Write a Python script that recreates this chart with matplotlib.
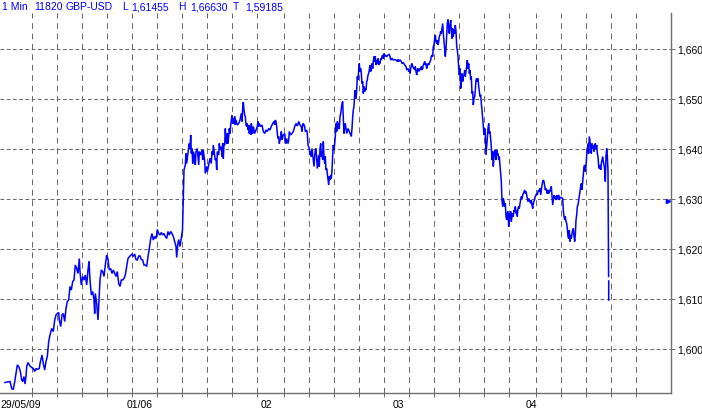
import numpy as np
import matplotlib
matplotlib.use("Agg")
import matplotlib.pyplot as plt
from matplotlib.ticker import FixedLocator, FuncFormatter

# ------------------------------------------
# Data (time slot along the axis, price)
# ------------------------------------------

seg1_t = [
    5.0, 10.0, 11.7, 13.3, 15.0, 16.0, 17.3, 18.7, 20.0, 20.7,
    21.7, 22.7, 24.0, 25.0, 26.0, 26.7, 28.0, 30.0, 31.7, 33.3,
    34.7, 36.0, 37.3, 39.3, 40.0, 42.0, 43.3, 44.7, 46.0, 47.3,
    48.7, 50.0, 51.7, 53.3, 54.7, 56.0, 57.3, 58.7, 59.3, 60.7,
    62.0, 63.3, 64.7, 66.0, 67.3, 68.7, 70.0, 71.3, 72.7, 74.0,
    75.3, 76.7, 78.0, 79.3, 80.0, 81.3, 82.7, 84.0, 85.3, 86.7,
    88.0, 89.0, 90.0, 91.3, 92.7, 94.0, 94.7, 95.3, 96.7, 98.0,
    98.7, 100.0, 101.3, 102.7, 104.0, 105.3, 106.7, 108.0, 109.3, 110.7,
    112.0, 113.3, 114.7, 116.0, 117.3, 118.7, 120.0, 121.3, 122.7, 124.0,
    125.3, 126.7, 128.0, 130.0, 132.0, 133.3, 134.7, 136.0, 137.3, 138.7,
    140.0, 141.3, 142.7, 144.0, 145.3, 146.7, 148.0, 149.3, 150.7, 152.0,
    153.3, 154.7, 156.0, 157.3, 158.7, 160.0, 161.3, 162.7, 164.0, 165.3,
    166.7, 168.0, 169.3, 170.7, 172.0, 173.3, 174.7, 176.0, 176.7, 177.7,
    178.7, 180.0, 182.5, 183.3, 184.0,
]
seg1_p = [
    1.5933, 1.5935, 1.5921, 1.5919, 1.5938, 1.5951, 1.5968, 1.5965, 1.5958, 1.5951,
    1.5938, 1.5935, 1.5945, 1.5930, 1.5945, 1.5965, 1.5973, 1.5966, 1.5963, 1.5961,
    1.5955, 1.5961, 1.5959, 1.5961, 1.5971, 1.5988, 1.5971, 1.5958, 1.5975, 1.5985,
    1.6015, 1.6028, 1.6041, 1.6035, 1.6058, 1.6068, 1.6071, 1.6073, 1.6058, 1.6045,
    1.6068, 1.6071, 1.6055, 1.6081, 1.6095, 1.6098, 1.6125, 1.6118, 1.6135, 1.6138,
    1.6168, 1.6161, 1.6151, 1.6181, 1.6155, 1.6128, 1.6145, 1.6138, 1.6148, 1.6128,
    1.6158, 1.6175, 1.6138, 1.6108, 1.6115, 1.6098, 1.6071, 1.6111, 1.6091, 1.6058,
    1.6085, 1.6138, 1.6158, 1.6155, 1.6145, 1.6168, 1.6188, 1.6179, 1.6158, 1.6161,
    1.6151, 1.6158, 1.6151, 1.6145, 1.6155, 1.6131, 1.6125, 1.6138, 1.6138, 1.6141,
    1.6148, 1.6165, 1.6181, 1.6186, 1.6190, 1.6185, 1.6190, 1.6179, 1.6178, 1.6186,
    1.6186, 1.6179, 1.6178, 1.6168, 1.6168, 1.6165, 1.6185, 1.6201, 1.6221, 1.6231,
    1.6218, 1.6225, 1.6221, 1.6239, 1.6231, 1.6228, 1.6233, 1.6228, 1.6231, 1.6225,
    1.6221, 1.6235, 1.6228, 1.6235, 1.6231, 1.6225, 1.6215, 1.6205, 1.6183, 1.6208,
    1.6219, 1.6205, 1.6238, 1.6298, 1.6358,
]

seg2_t = [
    185.3, 186.0, 186.7, 187.3, 188.3, 189.3, 190.0, 190.7, 191.3, 192.0,
    192.7, 193.3, 194.7, 195.3, 196.0, 197.3, 198.7, 199.3, 200.7, 202.0,
    202.7, 203.3, 204.7, 205.3, 206.7, 207.3, 208.0, 209.3, 210.0, 211.3,
    212.0, 212.7, 213.3, 214.0, 215.3, 216.0, 216.7, 217.3, 218.7, 219.3,
    220.0, 221.3, 222.0, 222.7, 223.3, 224.0, 224.7, 225.3, 226.0, 226.7,
    227.3, 228.0, 228.7, 229.3, 230.0, 230.7, 232.0, 232.7, 233.3, 234.0,
    234.7, 235.3, 236.0, 237.3, 238.7, 240.0, 241.3, 242.0, 242.7, 243.3,
    244.0, 244.7, 245.3, 246.0, 246.7, 247.3, 248.0, 248.7, 249.3, 250.0,
    250.7, 251.3, 252.0, 252.7, 253.3, 254.7, 256.0, 257.3, 258.0, 258.7,
    259.3, 260.7, 262.0, 263.3, 264.7, 266.0, 267.3, 268.7, 270.0, 271.3,
    272.7, 274.0, 274.7, 275.3, 276.0, 276.7, 277.3, 278.0, 278.7, 279.3,
    280.0, 280.7, 281.3, 282.0, 283.3, 284.7, 285.3, 286.0, 286.7, 288.0,
    288.7, 289.3, 290.7, 292.0, 293.3, 294.7, 296.0, 297.3, 298.7, 300.0,
    301.3, 302.0, 302.7, 303.3, 304.7, 305.3, 306.7, 307.3, 308.0, 309.3,
    310.0, 310.7, 311.3, 312.0, 312.7, 313.3, 314.0, 314.7, 315.3, 316.0,
    316.7, 317.3, 318.0, 318.7, 319.3, 320.0, 320.7, 321.3, 322.0, 322.7,
    323.3, 324.0, 324.7, 325.3, 326.0, 326.7, 327.3, 328.0, 328.7, 329.3,
    330.0, 330.7, 331.3, 332.0, 332.7, 333.3, 334.0, 334.7, 335.3, 336.0,
    336.7, 337.3, 338.0, 338.7, 339.3, 340.0, 340.7, 341.3, 342.0, 342.7,
    343.3, 344.0, 344.7, 345.3, 346.7, 348.0, 349.3,
]
seg2_p = [
    1.6368, 1.6391, 1.6371, 1.6381, 1.6398, 1.6411, 1.6401, 1.6428, 1.6391, 1.6401,
    1.6371, 1.6395, 1.6385, 1.6368, 1.6395, 1.6401, 1.6368, 1.6395, 1.6388, 1.6398,
    1.6378, 1.6398, 1.6375, 1.6351, 1.6365, 1.6355, 1.6361, 1.6375, 1.6381, 1.6371,
    1.6395, 1.6388, 1.6408, 1.6398, 1.6378, 1.6381, 1.6358, 1.6395, 1.6388, 1.6411,
    1.6398, 1.6405, 1.6385, 1.6411, 1.6381, 1.6411, 1.6408, 1.6441, 1.6418, 1.6411,
    1.6431, 1.6411, 1.6425, 1.6441, 1.6431, 1.6448, 1.6468, 1.6451, 1.6461, 1.6451,
    1.6465, 1.6448, 1.6458, 1.6448, 1.6451, 1.6458, 1.6471, 1.6455, 1.6481, 1.6494,
    1.6478, 1.6468, 1.6465, 1.6448, 1.6445, 1.6451, 1.6438, 1.6448, 1.6431, 1.6445,
    1.6428, 1.6451, 1.6438, 1.6431, 1.6445, 1.6431, 1.6438, 1.6445, 1.6455, 1.6445,
    1.6451, 1.6445, 1.6448, 1.6435, 1.6431, 1.6438, 1.6435, 1.6441, 1.6438, 1.6445,
    1.6451, 1.6455, 1.6448, 1.6458, 1.6455, 1.6445, 1.6431, 1.6421, 1.6425, 1.6411,
    1.6418, 1.6421, 1.6435, 1.6418, 1.6428, 1.6431, 1.6418, 1.6411, 1.6421, 1.6411,
    1.6418, 1.6435, 1.6428, 1.6431, 1.6435, 1.6445, 1.6451, 1.6446, 1.6455, 1.6448,
    1.6445, 1.6435, 1.6448, 1.6451, 1.6445, 1.6435, 1.6438, 1.6431, 1.6408, 1.6401,
    1.6388, 1.6395, 1.6385, 1.6401, 1.6388, 1.6375, 1.6365, 1.6385, 1.6398, 1.6401,
    1.6378, 1.6361, 1.6375, 1.6388, 1.6365, 1.6401, 1.6411, 1.6385, 1.6395, 1.6378,
    1.6415, 1.6385, 1.6371, 1.6385, 1.6358, 1.6361, 1.6351, 1.6341, 1.6328, 1.6345,
    1.6338, 1.6348, 1.6341, 1.6358, 1.6388, 1.6408, 1.6398, 1.6411, 1.6425, 1.6451,
    1.6435, 1.6455, 1.6451, 1.6441, 1.6441, 1.6465, 1.6471, 1.6481, 1.6491, 1.6495,
    1.6461, 1.6431, 1.6445, 1.6451, 1.6431, 1.6441, 1.6435,
]

seg3_t = [
    351.3, 352.0, 352.7, 353.3, 354.0, 354.7, 355.3, 356.0, 356.7, 357.3,
    358.0, 358.7, 359.3, 360.0, 360.7, 361.3, 362.0, 362.7, 363.3, 364.0,
    364.7, 365.3, 366.0, 366.7, 367.3, 368.0, 368.7, 369.3, 370.0, 370.7,
    371.3, 372.0, 372.7, 373.3, 374.0, 374.7, 375.3, 376.0, 376.7, 377.3,
    378.0, 378.7, 379.3, 380.0, 380.7, 381.3, 382.0, 382.7, 383.3, 384.0,
    384.7, 385.3, 386.7, 388.0, 389.3, 390.0, 390.7, 392.0, 393.3, 394.7,
    396.0, 397.3, 398.0, 398.7, 400.0, 401.3, 402.0, 403.3, 404.7, 406.0,
    406.7, 408.0, 408.7, 409.3, 410.0, 410.7, 411.3, 412.0, 412.7, 414.0,
    414.7, 415.3, 416.0, 416.7, 417.3, 418.0, 418.7, 419.3, 420.0, 420.7,
    421.3, 422.0, 422.7, 423.3, 424.0, 424.7, 425.3, 426.0, 426.7, 427.3,
    428.0, 428.7, 429.3, 430.0, 430.7, 431.3, 432.0, 432.7, 433.3, 434.0,
    434.7, 435.3, 436.0, 436.7, 437.3, 438.0, 438.7, 439.3, 440.0, 440.7,
    441.3, 442.0, 442.7, 443.3, 444.0, 444.7, 445.3, 446.0, 446.7, 447.3,
    448.0, 448.7, 449.3, 450.0, 450.7, 451.3, 452.0, 452.7, 453.3, 454.0,
    454.7, 455.3, 456.0, 456.7, 457.3, 458.0, 458.7, 459.3, 460.0, 460.7,
    461.3, 462.0, 462.7, 463.3, 464.0, 464.7, 465.3, 466.0, 466.7, 467.3,
    468.0, 468.7, 469.3, 470.0, 470.7, 471.3, 472.0, 472.7, 473.3, 474.0,
    474.7, 475.3, 476.0, 476.7, 477.3, 478.0, 478.7, 479.3, 480.0, 480.7,
    481.3, 482.0, 482.7, 483.3, 484.0, 484.7, 485.3,
]
seg3_p = [
    1.6425, 1.6441, 1.6465, 1.6478, 1.6485, 1.6508, 1.6518, 1.6501, 1.6518, 1.6545,
    1.6538, 1.6558, 1.6571, 1.6555, 1.6561, 1.6551, 1.6531, 1.6535, 1.6511, 1.6525,
    1.6515, 1.6521, 1.6518, 1.6535, 1.6538, 1.6548, 1.6551, 1.6558, 1.6568, 1.6555,
    1.6565, 1.6571, 1.6561, 1.6575, 1.6585, 1.6575, 1.6585, 1.6568, 1.6578, 1.6571,
    1.6581, 1.6568, 1.6575, 1.6571, 1.6581, 1.6578, 1.6585, 1.6588, 1.6581, 1.6591,
    1.6585, 1.6588, 1.6585, 1.6588, 1.6589, 1.6585, 1.6578, 1.6581, 1.6578, 1.6579,
    1.6578, 1.6575, 1.6579, 1.6575, 1.6578, 1.6575, 1.6571, 1.6573, 1.6568, 1.6565,
    1.6558, 1.6561, 1.6555, 1.6558, 1.6551, 1.6561, 1.6568, 1.6571, 1.6565, 1.6561,
    1.6558, 1.6565, 1.6555, 1.6548, 1.6558, 1.6561, 1.6555, 1.6558, 1.6561, 1.6558,
    1.6565, 1.6558, 1.6561, 1.6568, 1.6571, 1.6575, 1.6568, 1.6571, 1.6561, 1.6565,
    1.6571, 1.6568, 1.6571, 1.6575, 1.6578, 1.6585, 1.6588, 1.6585, 1.6605, 1.6608,
    1.6621, 1.6628, 1.6615, 1.6611, 1.6618, 1.6608, 1.6615, 1.6625, 1.6628, 1.6635,
    1.6631, 1.6641, 1.6651, 1.6631, 1.6615, 1.6601, 1.6585, 1.6601, 1.6628, 1.6651,
    1.6659, 1.6641, 1.6631, 1.6648, 1.6658, 1.6638, 1.6621, 1.6641, 1.6625, 1.6638,
    1.6631, 1.6648, 1.6635, 1.6605, 1.6598, 1.6585, 1.6561, 1.6548, 1.6561, 1.6521,
    1.6538, 1.6551, 1.6535, 1.6545, 1.6548, 1.6558, 1.6545, 1.6555, 1.6565, 1.6578,
    1.6561, 1.6571, 1.6551, 1.6558, 1.6538, 1.6545, 1.6511, 1.6515, 1.6488, 1.6501,
    1.6505, 1.6518, 1.6538, 1.6541, 1.6535, 1.6541, 1.6525, 1.6515, 1.6505, 1.6508,
    1.6491, 1.6478, 1.6461, 1.6448, 1.6428, 1.6441, 1.6431,
]

seg4_t = [
    486.0, 486.7, 487.3, 488.0, 488.7, 489.3, 490.0, 490.7, 491.3, 492.0,
    492.7, 493.3, 494.0, 494.7, 495.3, 496.0, 496.7, 497.3, 498.0, 498.7,
    499.3, 500.0, 500.7, 501.3, 502.0, 502.7, 503.3, 504.0, 504.7, 505.3,
    506.0, 506.7, 507.3, 508.0, 508.7, 509.3, 510.0, 510.7, 511.3, 512.0,
    512.7, 513.3, 514.0, 514.7, 515.3, 516.0, 516.7, 517.3, 518.0, 518.7,
    519.3, 520.0, 520.7, 521.3, 522.0, 522.7, 523.3, 524.0, 524.7, 525.3,
    526.0, 526.7, 527.3, 528.0, 528.7, 529.3, 530.0, 530.7, 531.3, 532.0,
    532.7, 533.3, 534.0, 534.7, 535.3, 536.0, 536.7, 537.3, 538.0, 538.7,
    539.3, 540.0, 540.7, 541.3, 542.0, 542.7, 543.3, 544.0, 544.7, 545.3,
    546.0, 546.7, 547.3, 548.0, 548.7, 549.3, 550.0, 550.7, 551.3, 552.0,
    552.7, 553.3, 554.0, 554.7, 555.3, 556.0, 556.7, 557.3, 558.0, 558.7,
    559.3, 560.0, 561.3, 562.7, 563.3, 564.0, 564.7, 565.3, 566.0, 566.7,
    567.3, 568.0, 568.7, 569.3, 570.0, 570.7, 571.3, 572.0, 572.7, 573.3,
    574.0, 574.7, 575.3, 576.0, 576.7, 577.3, 578.0, 578.7, 579.3, 580.0,
    580.7, 581.3, 582.0, 582.7, 583.3, 584.0, 584.7, 585.3, 586.0, 586.7,
    587.3, 588.0, 588.7, 589.3, 590.0, 590.7, 591.3, 592.0, 592.7, 593.3,
    594.0, 594.7, 595.3, 596.0, 596.7, 597.3, 598.0, 598.7, 599.3, 600.0,
    600.7, 601.3, 602.0, 602.7, 603.3, 604.0, 604.7, 605.3, 606.0, 606.7,
    607.3, 608.0, 608.6, 608.6, 608.7, 608.7,
]
seg4_p = [
    1.6388, 1.6405, 1.6421, 1.6441, 1.6451, 1.6431, 1.6435, 1.6418, 1.6405, 1.6378,
    1.6395, 1.6365, 1.6385, 1.6398, 1.6391, 1.6378, 1.6398, 1.6388, 1.6391, 1.6378,
    1.6385, 1.6368, 1.6351, 1.6335, 1.6298, 1.6285, 1.6301, 1.6295, 1.6285, 1.6291,
    1.6265, 1.6258, 1.6271, 1.6275, 1.6245, 1.6271, 1.6261, 1.6275, 1.6255, 1.6265,
    1.6271, 1.6265, 1.6278, 1.6275, 1.6285, 1.6271, 1.6278, 1.6265, 1.6281, 1.6285,
    1.6281, 1.6291, 1.6298, 1.6305, 1.6301, 1.6308, 1.6311, 1.6315, 1.6318, 1.6311,
    1.6315, 1.6308, 1.6301, 1.6295, 1.6301, 1.6298, 1.6295, 1.6291, 1.6298, 1.6288,
    1.6281, 1.6291, 1.6295, 1.6301, 1.6305, 1.6308, 1.6311, 1.6308, 1.6315, 1.6318,
    1.6315, 1.6321, 1.6308, 1.6318, 1.6328, 1.6335, 1.6338, 1.6335, 1.6325, 1.6318,
    1.6321, 1.6315, 1.6311, 1.6318, 1.6311, 1.6318, 1.6315, 1.6321, 1.6325, 1.6305,
    1.6288, 1.6298, 1.6308, 1.6301, 1.6305, 1.6298, 1.6308, 1.6301, 1.6305, 1.6308,
    1.6298, 1.6303, 1.6303, 1.6301, 1.6278, 1.6265, 1.6258, 1.6265, 1.6255, 1.6251,
    1.6241, 1.6225, 1.6221, 1.6238, 1.6215, 1.6228, 1.6221, 1.6231, 1.6238, 1.6241,
    1.6225, 1.6215, 1.6228, 1.6258, 1.6268, 1.6285, 1.6288, 1.6298, 1.6305, 1.6315,
    1.6325, 1.6331, 1.6318, 1.6335, 1.6351, 1.6365, 1.6368, 1.6355, 1.6365, 1.6388,
    1.6398, 1.6411, 1.6391, 1.6425, 1.6415, 1.6405, 1.6391, 1.6411, 1.6401, 1.6408,
    1.6395, 1.6405, 1.6411, 1.6401, 1.6408, 1.6391, 1.6385, 1.6365, 1.6361, 1.6368,
    1.6358, 1.6371, 1.6378, 1.6385, 1.6375, 1.6368, 1.6358, 1.6335, 1.6385, 1.6401,
    1.6388, 1.6355, 1.6145, np.nan, 1.6136, 1.6098,
]

last_tag_slot = 668
last_tag_price = 1.6296

# axis layout
grid_slots = [32, 57, 82, 107, 132, 157, 182, 207, 232, 257, 284, 309, 334,
              359, 384, 409, 434, 459, 484, 509, 536, 561, 586, 611, 636]
day_slots = [0, 127, 261, 393, 526]
day_labels = ["29/05/09", "01/06", "02", "03", "04"]
price_ticks = [1.600, 1.610, 1.620, 1.630, 1.640, 1.650, 1.660]

header = [
    (2, "1 Min"), (34, "11820"), (66, "GBP-USD"),
    (122, "L"), (131, "1,61455"),
    (178, "H"), (190, "1,66630"),
    (233, "T"), (245, "1,59185"),
]

BLUE = "#0000ff"
GRID = "#6a6a6a"
AXIS = "#707070"

plt.rcParams["font.family"] = ["Liberation Sans Narrow", "Liberation Sans", "DejaVu Sans"]

W, H = 702, 411
fig = plt.figure(figsize=(W / 100, H / 100), dpi=100)
fig.patch.set_facecolor("white")

ax = fig.add_axes([0, 18 / H, 671 / W, (393 - 13) / H])

t = np.concatenate([seg1_t, seg2_t, seg3_t, seg4_t])
p = np.concatenate([seg1_p, seg2_p, seg3_p, seg4_p])

ax.plot(t, p, color=BLUE, linewidth=1.1, solid_joinstyle="miter", zorder=3)

ax.plot([last_tag_slot], [last_tag_price], marker=">", markersize=3,
        color=BLUE, clip_on=False, zorder=4)

ax.set_xlim(0, 671)
ax.set_ylim(1.5912, 1.6672)

# ==========================================
# Ticks
# ==========================================

ax.yaxis.tick_right()
ax.yaxis.set_major_locator(FixedLocator(price_ticks))
ax.yaxis.set_major_formatter(
    FuncFormatter(lambda v, pos: f"{v:.3f}".replace(".", ","))
)
ax.tick_params(axis="y", which="major", direction="out", length=3,
               width=0.75, color=AXIS, pad=1.5, labelsize=7.5,
               labelcolor="black")

ax.xaxis.set_major_locator(FixedLocator(day_slots))
ax.set_xticklabels(day_labels)
for lbl in ax.get_xticklabels():
    lbl.set_horizontalalignment("left")
ax.xaxis.set_minor_locator(FixedLocator(grid_slots))
ax.tick_params(axis="x", which="major", length=0, pad=5, labelsize=7.5,
               labelcolor="black")
ax.tick_params(axis="x", which="minor", direction="out", length=3,
               width=0.75, color=AXIS)

# ==========================================
# Grid
# ==========================================

ax.grid(False)
ax.yaxis.grid(True, which="major", color=GRID, linewidth=0.75,
              linestyle=(0, (3.5, 2.5)))
ax.xaxis.grid(True, which="minor", color=GRID, linewidth=0.75,
              linestyle=(0, (5.5, 4.5)))
ax.set_axisbelow(True)

for side in ["left", "top"]:
    ax.spines[side].set_visible(False)
for side in ["right", "bottom"]:
    ax.spines[side].set_color(AXIS)
    ax.spines[side].set_linewidth(1.0)

# header line
for px, txt in header:
    fig.text(px / W, 1 - 7 / H, txt, color=BLUE, fontsize=7.5,
             family=["Liberation Sans", "DejaVu Sans"],
             ha="left", va="center")

fig.savefig("out.png", dpi=100, facecolor="white")
